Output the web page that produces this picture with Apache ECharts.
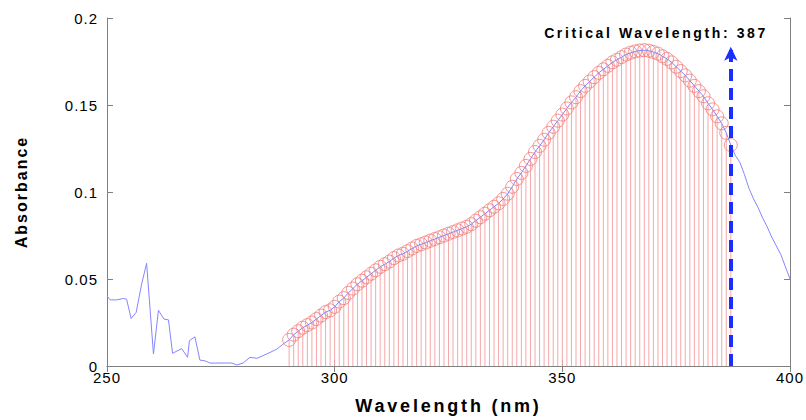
<!DOCTYPE html>
<html>
<head>
<meta charset="utf-8">
<script src="https://cdn.jsdelivr.net/npm/echarts@6/dist/echarts.min.js"></script>
<style>
html,body{margin:0;padding:0;background:#fff;}
#c{width:806px;height:420px;}
</style>
</head>
<body>
<div id="c"></div>
<script>
// ---- data ----
const xTicks = [250, 300, 350, 400];
const yTicks = [0, 0.05, 0.1, 0.15, 0.2];
const xName = 'Wavelength (nm)';
const yName = 'Absorbance';
const titleText = 'Critical Wavelength: 387';

// blue spectrum, left part (noisy region)
const leftWavelengths = [250,250.7,252.1,253.6,254.3,255.3,256.4,257.6,258.7,260.2,261.3,262.5,263.5,264.4,266.4,267.7,268.1,269.3,270.4,271.5,272.6,277.4,278.5,279.9,281.4,282.9,284.3,285.8,287.3,288.7];
const leftAbsorbance = [0.0403,0.038,0.038,0.0388,0.0384,0.0273,0.0308,0.047,0.059,0.0069,0.032,0.027,0.0265,0.0073,0.010,0.005,0.0145,0.0168,0.0034,0.003,0.0017,0.0017,0.0006,0.0017,0.005,0.0044,0.006,0.0078,0.0097,0.0126];

// stems (1 nm steps from 290 to 387)
const stemStart = 290;
const stemAbsorbance = [
 0.0150,0.0180,0.0200,0.0220,0.0235,0.0250,0.0270,0.0290,0.0310,0.0320,
 0.0340,0.0370,0.0390,0.0420,0.0445,0.0470,0.0490,0.0510,0.0530,0.0550,
 0.0570,0.0585,0.0600,0.0620,0.0635,0.0645,0.0660,0.0675,0.0690,0.0700,
 0.0710,0.0720,0.0730,0.0740,0.0750,0.0760,0.0770,0.0780,0.0790,0.0800,
 0.0815,0.0835,0.0855,0.0875,0.0895,0.0915,0.0935,0.0960,0.0990,0.1030,
 0.1075,0.1110,0.1150,0.1190,0.1230,0.1265,0.1300,0.1340,0.1375,0.1410,
 0.1445,0.1480,0.1515,0.1545,0.1580,0.1610,0.1635,0.1660,0.1685,0.1705,
 0.1725,0.1745,0.1760,0.1775,0.1790,0.1800,0.1808,0.1813,0.1815,0.1812,
 0.1805,0.1795,0.1780,0.1765,0.1745,0.1720,0.1695,0.1670,0.1640,0.1610,
 0.1580,0.1550,0.1510,0.1475,0.1435,0.1395,0.1340,0.1270];

// blue spectrum, right tail
const rightWavelengths = [388,389,390,391,392,393,394,395,396,397,398,399,400];
const rightAbsorbance = [0.121,0.117,0.110,0.102,0.096,0.091,0.085,0.080,0.074,0.069,0.064,0.057,0.050];

// critical wavelength arrow
const criticalWavelength = 387;
const arrowTop = 0.1835;

// ---- build series data ----
const stemPoints = stemAbsorbance.map((v, i) => [stemStart + i, v]);
const bluePoints = leftWavelengths.map((w, i) => [w, leftAbsorbance[i]])
  .concat(stemPoints)
  .concat(rightWavelengths.map((w, i) => [w, rightAbsorbance[i]]));

const FONT = 'Liberation Sans, Arial, Helvetica, sans-serif';
const axisGrey = '#808080';

const chart = echarts.init(document.getElementById('c'), null, {renderer: 'svg'});
const option = {
  animation: false,
  backgroundColor: '#fff',
  grid: {left: 107, right: 16, top: 18, bottom: 53},
  xAxis: [{
    type: 'value', min: xTicks[0], max: xTicks[xTicks.length - 1], interval: 50,
    name: xName, nameLocation: 'middle', nameGap: 31,
    nameTextStyle: {fontFamily: FONT, fontWeight: 'bold', fontSize: 18, color: '#000'},
    axisLine: {show: true, lineStyle: {color: axisGrey, width: 1}},
    axisTick: {show: true, inside: true, length: 6, lineStyle: {color: axisGrey}},
    axisLabel: {fontFamily: FONT, fontSize: 15, color: '#000', margin: 4},
    splitLine: {show: false}
  }, {
    type: 'value', position: 'top', min: xTicks[0], max: xTicks[xTicks.length - 1], interval: 50,
    axisLine: {show: true, lineStyle: {color: axisGrey, width: 1}},
    axisTick: {show: true, inside: true, length: 6, lineStyle: {color: axisGrey}},
    axisLabel: {show: false}, splitLine: {show: false}
  }],
  yAxis: [{
    type: 'value', min: yTicks[0], max: yTicks[yTicks.length - 1], interval: 0.05,
    name: yName, nameLocation: 'middle', nameGap: 78, nameRotate: 90,
    nameTextStyle: {fontFamily: FONT, fontWeight: 'bold', fontSize: 16, color: '#000'},
    axisLine: {show: true, lineStyle: {color: axisGrey, width: 1}},
    axisTick: {show: true, inside: true, length: 6, lineStyle: {color: axisGrey}},
    axisLabel: {fontFamily: FONT, fontSize: 15, color: '#000', margin: 9},
    splitLine: {show: false}
  }, {
    type: 'value', position: 'right', min: yTicks[0], max: yTicks[yTicks.length - 1], interval: 0.05,
    axisLine: {show: true, lineStyle: {color: axisGrey, width: 1}},
    axisTick: {show: true, inside: true, length: 6, lineStyle: {color: axisGrey}},
    axisLabel: {show: false}, splitLine: {show: false}
  }],
  graphic: [{
    type: 'text', x: 656, y: 33, z: 100,
    style: {text: titleText, fill: '#000', font: 'bold 14px ' + FONT, textAlign: 'center', textVerticalAlign: 'middle'}
  }],
  series: [{
    type: 'bar', name: 'stems', data: stemPoints, barWidth: 1,
    itemStyle: {color: '#f5a8a8'}, z: 1, silent: true
  }, {
    type: 'scatter', name: 'markers', data: stemPoints, symbol: 'circle', symbolSize: 13,
    itemStyle: {color: 'rgba(255,255,255,0)', borderColor: '#f37a7a', borderWidth: 1}, z: 2, silent: true,
    markLine: {
      silent: true, animation: false,
      symbol: ['none', 'arrow'], symbolSize: [10, 14],
      label: {show: false},
      lineStyle: {color: '#1a2fff', width: 4, type: [12, 7], opacity: 1},
      data: [[{coord: [criticalWavelength, 0]}, {coord: [criticalWavelength, arrowTop]}]]
    }
  }, {
    type: 'line', name: 'spectrum', data: bluePoints, showSymbol: false, symbol: 'none',
    lineStyle: {color: '#8585ff', width: 1}, z: 3, silent: true
  }]
};
chart.setOption(option);

function applySpacing() {
  document.querySelectorAll('#c text').forEach(t => {
    const s = t.textContent;
    let ls = '1px';
    if (s === xName) ls = '2.8px';
    else if (s === yName) ls = '2px';
    else if (s === titleText) ls = '2.6px';
    t.style.letterSpacing = ls;
  });
}
applySpacing();
chart.on('finished', applySpacing);
</script>
</body>
</html>
